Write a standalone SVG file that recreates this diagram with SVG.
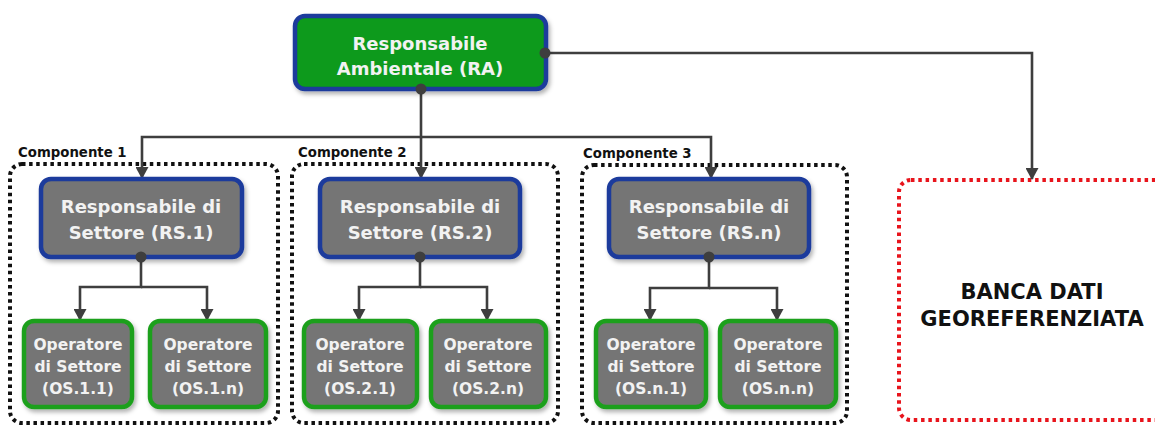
<svg xmlns="http://www.w3.org/2000/svg" width="1155" height="425" viewBox="0 0 1155 425">
  <style>
    .lbl { font-family: "DejaVu Sans", Verdana, sans-serif; font-weight: bold; text-anchor: middle; }
    .ra { fill: #0a9a1a; stroke: #1a3a9c; stroke-width: 4.5; }
    .rs { fill: #747474; stroke: #1a3a9c; stroke-width: 4.5; }
    .os { fill: #747474; stroke: #1fa01f; stroke-width: 4.5; }
    .grp { fill: none; stroke: #111; stroke-width: 4; stroke-dasharray: 3.5 3.6; }
    .db { fill: #fff; stroke: #e8141c; stroke-width: 4; stroke-dasharray: 3.5 3.8; }
    .wire { fill: none; stroke: #3e3e3e; stroke-width: 2.6; }
    .dot { fill: #3e3e3e; }
    .t18 { font-size: 18px; fill: #f2f2f2; }
    .t15 { font-size: 15.5px; fill: #f2f2f2; }
    .cmp { font-family: "DejaVu Sans", Verdana, sans-serif; font-weight: bold; font-size: 13.3px; fill: #111; }
  </style>
  <defs>
    <marker id="arr" viewBox="0 0 12 13" refX="11" refY="6.5" markerWidth="12" markerHeight="13" markerUnits="userSpaceOnUse" orient="auto">
      <path d="M0,0 L12,6.5 L0,13 Z" fill="#3e3e3e"/>
    </marker>
    <filter id="sh" x="-10%" y="-10%" width="125%" height="130%">
      <feDropShadow dx="2" dy="3" stdDeviation="2" flood-color="#000" flood-opacity="0.3"/>
    </filter>
  </defs>

  <rect width="1155" height="425" fill="#fff"/>

  <!-- component frames -->
  <g id="componente-1">
    <rect class="grp" x="10" y="164" width="268" height="259" rx="12"/>
    <text class="cmp" x="18" y="157">Componente 1</text>
  </g>
  <g id="componente-2">
    <rect class="grp" x="292" y="164" width="266" height="259" rx="12"/>
    <text class="cmp" x="298" y="157">Componente 2</text>
  </g>
  <g id="componente-3">
    <rect class="grp" x="582" y="165" width="265" height="258" rx="12"/>
    <text class="cmp" x="583" y="158">Componente 3</text>
  </g>

  <!-- database -->
  <g id="banca-dati">
    <rect class="db" x="899" y="180" width="280" height="240" rx="12"/>
    <text class="lbl" x="1032" y="299" font-size="21" fill="#111">BANCA DATI</text>
    <text class="lbl" x="1032" y="326" font-size="21" fill="#111">GEOREFERENZIATA</text>
  </g>

  <!-- connectors -->
  <g id="connectors">
    <path class="wire" d="M421,89 V137 H142 V178" marker-end="url(#arr)"/>
    <path class="wire" d="M421,137 V178" marker-end="url(#arr)"/>
    <path class="wire" d="M421,137 H711 V178" marker-end="url(#arr)"/>
    <path class="wire" d="M545,53 H1032 V179" marker-end="url(#arr)"/>

    <path class="wire" d="M141,258 V287 H80 V320" marker-end="url(#arr)"/>
    <path class="wire" d="M141,287 H207 V320" marker-end="url(#arr)"/>

    <path class="wire" d="M420,258 V287 H359 V320" marker-end="url(#arr)"/>
    <path class="wire" d="M420,287 H487 V320" marker-end="url(#arr)"/>

    <path class="wire" d="M709,258 V288 H650 V320" marker-end="url(#arr)"/>
    <path class="wire" d="M709,288 H777 V320" marker-end="url(#arr)"/>
  </g>

  <!-- top node -->
  <g id="ra">
    <rect class="ra" x="295" y="16" width="251" height="73" rx="10" filter="url(#sh)"/>
    <text class="lbl t18" x="420" y="50" fill="#eaf6e6">Responsabile</text>
    <text class="lbl t18" x="420" y="75" fill="#eaf6e6">Ambientale (RA)</text>
  </g>

  <!-- sector leads -->
  <g id="rs1">
    <rect class="rs" x="41" y="179" width="201" height="78" rx="10" filter="url(#sh)"/>
    <text class="lbl t18" x="141" y="213">Responsabile di</text>
    <text class="lbl t18" x="141" y="239">Settore (RS.1)</text>
  </g>
  <g id="rs2">
    <rect class="rs" x="320" y="179" width="200" height="78" rx="10" filter="url(#sh)"/>
    <text class="lbl t18" x="420" y="213">Responsabile di</text>
    <text class="lbl t18" x="420" y="239">Settore (RS.2)</text>
  </g>
  <g id="rs3">
    <rect class="rs" x="609" y="179" width="200" height="78" rx="10" filter="url(#sh)"/>
    <text class="lbl t18" x="709" y="213">Responsabile di</text>
    <text class="lbl t18" x="709" y="239">Settore (RS.n)</text>
  </g>

  <!-- operators -->
  <g id="os11">
    <rect class="os" x="24" y="321" width="108" height="86" rx="10" filter="url(#sh)"/>
    <text class="lbl t15" x="78" y="350">Operatore</text>
    <text class="lbl t15" x="78" y="372">di Settore</text>
    <text class="lbl t15" x="78" y="394">(OS.1.1)</text>
  </g>
  <g id="os1n">
    <rect class="os" x="150" y="321" width="116" height="86" rx="10" filter="url(#sh)"/>
    <text class="lbl t15" x="208" y="350">Operatore</text>
    <text class="lbl t15" x="208" y="372">di Settore</text>
    <text class="lbl t15" x="208" y="394">(OS.1.n)</text>
  </g>
  <g id="os21">
    <rect class="os" x="304" y="321" width="113" height="86" rx="10" filter="url(#sh)"/>
    <text class="lbl t15" x="360" y="350">Operatore</text>
    <text class="lbl t15" x="360" y="372">di Settore</text>
    <text class="lbl t15" x="360" y="394">(OS.2.1)</text>
  </g>
  <g id="os2n">
    <rect class="os" x="431" y="321" width="115" height="86" rx="10" filter="url(#sh)"/>
    <text class="lbl t15" x="488" y="350">Operatore</text>
    <text class="lbl t15" x="488" y="372">di Settore</text>
    <text class="lbl t15" x="488" y="394">(OS.2.n)</text>
  </g>
  <g id="osn1">
    <rect class="os" x="596" y="321" width="110" height="86" rx="10" filter="url(#sh)"/>
    <text class="lbl t15" x="651" y="350">Operatore</text>
    <text class="lbl t15" x="651" y="372">di Settore</text>
    <text class="lbl t15" x="651" y="394">(OS.n.1)</text>
  </g>
  <g id="osnn">
    <rect class="os" x="720" y="321" width="116" height="86" rx="10" filter="url(#sh)"/>
    <text class="lbl t15" x="778" y="350">Operatore</text>
    <text class="lbl t15" x="778" y="372">di Settore</text>
    <text class="lbl t15" x="778" y="394">(OS.n.n)</text>
  </g>

  <!-- junction dots -->
  <g id="junctions">
    <circle class="dot" cx="421" cy="89" r="5.5"/>
    <circle class="dot" cx="545" cy="53" r="5.5"/>
    <circle class="dot" cx="141" cy="257" r="5.5"/>
    <circle class="dot" cx="420" cy="257" r="5.5"/>
    <circle class="dot" cx="709" cy="257" r="5.5"/>
  </g>
</svg>
